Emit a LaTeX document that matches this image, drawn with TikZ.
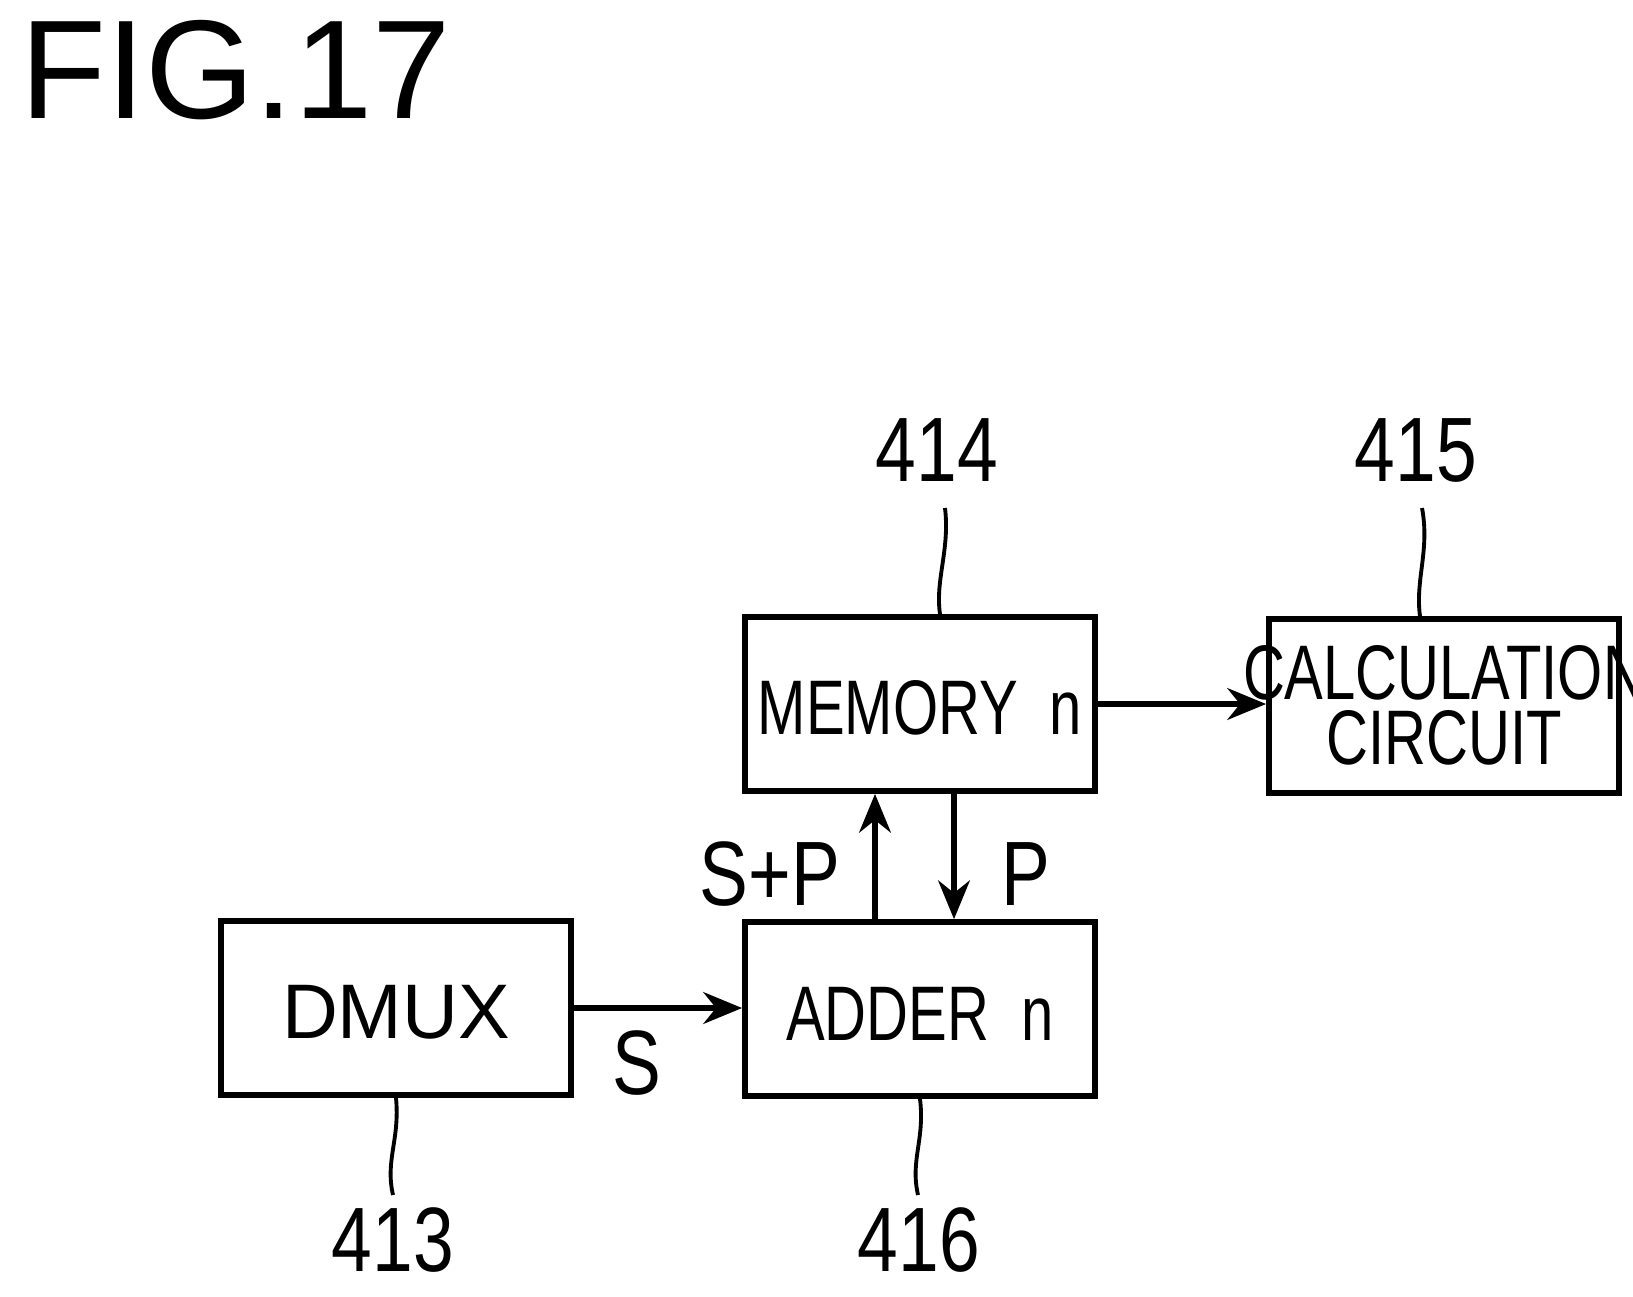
\documentclass[tikz,border=0pt]{standalone}
\usepackage{fontspec}
\setmainfont{Liberation Sans}
\usetikzlibrary{arrows.meta}
\begin{document}
\begin{tikzpicture}[
    x=0.01cm, y=-0.01cm,
    >={Stealth[length=11pt,width=9pt]},
    block/.style={draw, line width=1.6pt, inner sep=0pt, minimum width=3.5cm, minimum height=1.74cm},
    flow/.style={->, line width=1.6pt},
    lead/.style={line width=1.1pt},
    num/.style={font=\fontsize{26}{26}\selectfont, xscale=0.8},
    txt/.style={font=\fontsize{22}{25}\selectfont, xscale=0.75}
    ]
\useasboundingbox (0,0) rectangle (1633,1296);
% TITLE
\node[font=\fontsize{40}{40}\selectfont, anchor=west] (fig) at (8,70) {FIG.17};

% BLOCKS
\node[block] (mem) at (920,704) {};
\node[txt] (memt) at (920,708) {MEMORY\ \ n};
\node[block] (calc) at (1444,706) {};
\node[txt] (calct1) at (1444,673) {CALCULATION};
\node[txt] (calct2) at (1444,738) {CIRCUIT};
\node[block] (dmux) at (396,1008) {};
\node[font=\fontsize{22}{22}\selectfont] (dmuxt) at (396,1012) {DMUX};
\node[block] (add) at (920,1009) {};
\node[txt] (addt) at (920,1014) {ADDER\ \ n};

% CONNECTORS
\draw[flow] (mem.east) -- (mem.east -| calc.west);
\draw[flow] (dmux.east) -- (dmux.east -| add.west);
\draw[flow] (add.north -| 875,0) -- (mem.south -| 875,0);
\draw[flow] (mem.south -| 954,0) -- (add.north -| 954,0);
\node[num] (s) at (637,1063) {S};
\node[num] (sp) at (770,874) {S+P};
\node[num] (p) at (1026,874) {P};

% REFERENCE NUMERALS
\node[num] (n414) at (937,450) {414};
\node[num] (n415) at (1416,450) {415};
\node[num] (n413) at (393,1240) {413};
\node[num] (n416) at (919,1240) {416};
\draw[lead] (mem.north -| 940,0) .. controls (935,580) and (950,550) .. (945,508);
\draw[lead] (calc.north -| 1420,0) .. controls (1415,580) and (1430,550) .. (1422,508);
\draw[lead] (dmux.south -| 396,0) .. controls (400,1140) and (385,1160) .. (393,1195);
\draw[lead] (add.south -| 920,0) .. controls (925,1140) and (910,1160) .. (918,1195);
\end{tikzpicture}
\end{document}
